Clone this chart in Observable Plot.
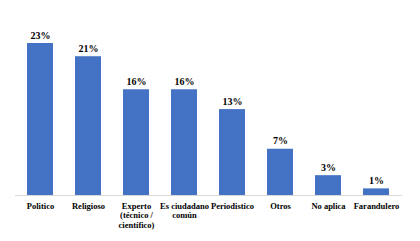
<!DOCTYPE html>
<html>
<head>
<meta charset="utf-8">
<script src="https://cdn.jsdelivr.net/npm/d3@7"></script>
<script src="https://cdn.jsdelivr.net/npm/@observablehq/plot@0.6"></script>
<style>
  html, body { margin: 0; padding: 0; background: #fff; }
  #chart { width: 420px; height: 241px; }
  #chart svg, #chart svg text { font-family: "Liberation Serif", "Times New Roman", serif !important; }
</style>
</head>
<body>
<div id="chart"></div>
<script>
const categories = ["Politico", "Religioso", "Experto\n(técnico /\ncientífico)", "Es ciudadano\ncomún", "Periodistico", "Otros", "No aplica", "Farandulero"];
const values = [23, 21, 16, 16, 13, 7, 3, 1];
const valueLabels = ["23%", "21%", "16%", "16%", "13%", "7%", "3%", "1%"];

const data = categories.map((c, i) => ({cat: c, v: values[i], label: valueLabels[i]}));
const serif = "Liberation Serif, Times New Roman, serif";

const chart = Plot.plot({
  width: 420,
  height: 241,
  marginTop: 43,
  marginBottom: 46,
  marginLeft: 15,
  marginRight: 18,
  style: {fontFamily: serif, background: "#fff"},
  x: {domain: categories, paddingInner: 0.45, paddingOuter: 0.225, label: null},
  y: {domain: [0, 23], axis: null},
  marks: [
    Plot.ruleY([0], {stroke: "#d9d9d9", strokeWidth: 1}),
    Plot.barY(data, {x: "cat", y: "v", fill: "#4472C4"}),
    Plot.text(data, {x: "cat", y: "v", text: "label", dy: -8, fontSize: 10, fontWeight: "bold", fill: "#000", fontFamily: serif}),
    Plot.axisX({tickSize: 0, tickPadding: 7, fontSize: 8.5, fontWeight: "bold", fill: "#000", lineHeight: 1.1, fontFamily: serif, label: null})
  ]
});
document.getElementById("chart").appendChild(chart);
</script>
</body>
</html>
